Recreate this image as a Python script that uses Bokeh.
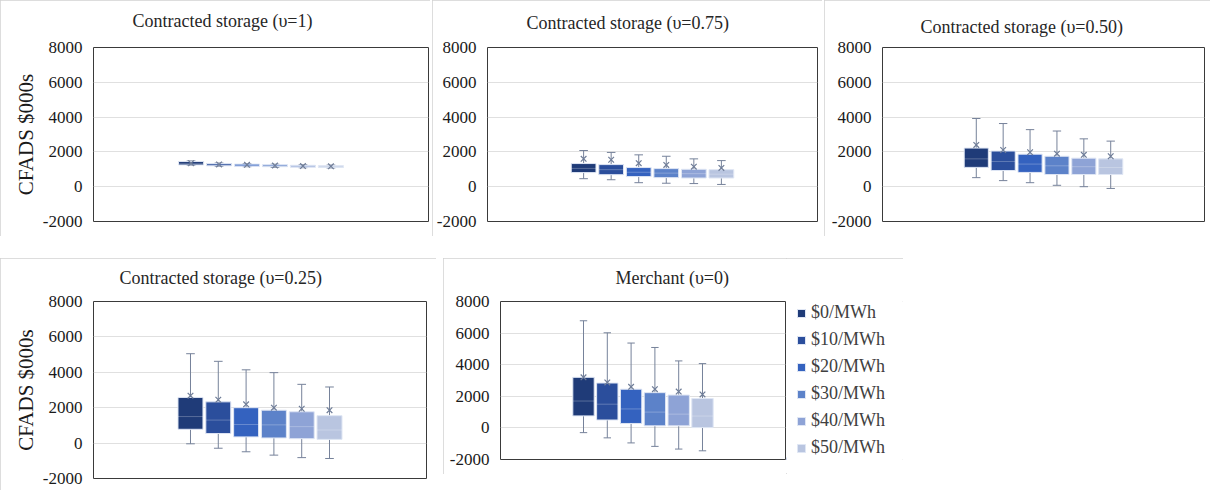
from bokeh.plotting import figure
from bokeh.models import (Range1d, Legend, LegendItem, ColumnDataSource,
                          FixedTicker, NumeralTickFormatter, Title)
from bokeh.layouts import row, column
from bokeh.embed import file_html
from bokeh.resources import INLINE

CATEGORIES = ["$0/MWh", "$10/MWh", "$20/MWh", "$30/MWh", "$40/MWh", "$50/MWh"]
COLORS = ["#1f3b78", "#2b4e9c", "#3462bf", "#5c82c9", "#8ea3d6", "#b9c5e0"]
Y_TICKS = [-2000, 0, 2000, 4000, 6000, 8000]

# Contracted storage (v=1)
LOW_100 = [1230, 1170, 1150, 1110, 1090, 1080]
Q1_100 = [1250, 1200, 1180, 1150, 1120, 1110]
MED_100 = [1340, 1260, 1240, 1200, 1170, 1160]
Q3_100 = [1450, 1330, 1300, 1260, 1230, 1210]
HIGH_100 = [1480, 1360, 1330, 1290, 1260, 1240]
MEAN_100 = [1350, 1280, 1255, 1215, 1185, 1170]

# Contracted storage (v=0.75)
LOW_075 = [460, 400, 230, 200, 180, 130]
Q1_075 = [810, 690, 580, 520, 500, 500]
MED_075 = [1050, 980, 830, 780, 750, 720]
Q3_075 = [1330, 1270, 1100, 1040, 1000, 980]
HIGH_075 = [2080, 1970, 1830, 1750, 1600, 1500]
MEAN_075 = [1600, 1550, 1350, 1250, 1150, 1080]

# Contracted storage (v=0.50)
LOW_050 = [520, 350, 230, 80, 0, -100]
Q1_050 = [1110, 930, 820, 700, 700, 700]
MED_050 = [1600, 1450, 1300, 1200, 1150, 1100]
Q3_050 = [2220, 2050, 1870, 1750, 1640, 1600]
HIGH_050 = [3920, 3630, 3280, 3200, 2750, 2620]
MEAN_050 = [2400, 2110, 1980, 1900, 1830, 1750]

# Contracted storage (v=0.25)
LOW_025 = [-40, -290, -490, -680, -820, -870]
Q1_025 = [780, 540, 350, 290, 250, 210]
MED_025 = [1500, 1300, 1050, 1030, 930, 740]
Q3_025 = [2580, 2330, 2000, 1860, 1770, 1550]
HIGH_025 = [5050, 4620, 4140, 3980, 3320, 3170]
MEAN_025 = [2680, 2450, 2190, 2000, 1940, 1860]

# Merchant (v=0)
LOW_000 = [-300, -630, -950, -1170, -1340, -1450]
Q1_000 = [760, 500, 280, 130, 130, 20]
MED_000 = [1700, 1500, 1200, 1000, 870, 750]
Q3_000 = [3200, 2840, 2450, 2230, 2080, 1860]
HIGH_000 = [6780, 6020, 5370, 5090, 4240, 4070]
MEAN_000 = [3200, 2880, 2600, 2450, 2300, 2120]

FONT = "Liberation Serif"
STEP = 0.0835
BOX_W = 0.075
CAP_W = 0.026
PANEL_OUTLINE = {"outline": "1px solid #d2d2d2", "outline-offset": "-1px"}


def make_panel(title, low, q1, med, q3, high, mean, width, height,
               left, right, top, bottom, title_offset, title_gap,
               ylabel=None, outline=True):
    p = figure(width=width, height=height, x_range=Range1d(0, 1),
               y_range=Range1d(-2000, 8000), output_backend="svg",
               toolbar_location=None, title_location=None,
               min_border_left=left, min_border_right=right,
               min_border_top=top, min_border_bottom=bottom)
    if outline:
        p.styles = PANEL_OUTLINE
    p.background_fill_color = "white"
    p.border_fill_color = "white"
    p.outline_line_color = "#3a3a3a"
    p.outline_line_width = 1

    # thin spacer between the frame and the chart title
    p.add_layout(Title(text=" ", text_font_size="1px", standoff=title_gap),
                 "above")
    p.add_layout(Title(text=title, align="left", offset=title_offset,
                       standoff=0, text_font=FONT, text_font_size="18px",
                       text_font_style="normal", text_color="#262626"),
                 "above")

    p.xaxis.visible = False
    p.xgrid.visible = False
    p.ygrid.grid_line_color = "#e0e0e0"
    p.yaxis.ticker = FixedTicker(ticks=Y_TICKS)
    p.yaxis.formatter = NumeralTickFormatter(format="0")
    p.yaxis.axis_line_color = None
    p.yaxis.major_tick_line_color = None
    p.yaxis.minor_tick_line_color = None
    p.yaxis.major_label_text_font = FONT
    p.yaxis.major_label_text_font_size = "17px"
    p.yaxis.major_label_text_color = "#1a1a1a"
    p.yaxis.major_label_standoff = 5
    if ylabel:
        p.yaxis.axis_label = ylabel
        p.yaxis.axis_label_text_font = FONT
        p.yaxis.axis_label_text_font_size = "21px"
        p.yaxis.axis_label_text_font_style = "normal"
        p.yaxis.axis_label_text_color = "#1a1a1a"
        p.yaxis.axis_label_standoff = 2

    n = len(CATEGORIES)
    xs = [0.5 + (i - (n - 1) / 2) * STEP for i in range(n)]
    src = ColumnDataSource(dict(
        x=xs, low=low, q1=q1, med=med, q3=q3, high=high, mean=mean,
        color=COLORS, cat=CATEGORIES,
        x0=[x - CAP_W / 2 for x in xs], x1=[x + CAP_W / 2 for x in xs],
        m0=[x - BOX_W / 2 for x in xs], m1=[x + BOX_W / 2 for x in xs],
    ))
    whisk = "#76829a"
    p.segment(x0="x", y0="q3", x1="x", y1="high", source=src,
              line_color=whisk, line_width=1)
    p.segment(x0="x", y0="low", x1="x", y1="q1", source=src,
              line_color=whisk, line_width=1)
    p.segment(x0="x0", y0="high", x1="x1", y1="high", source=src,
              line_color=whisk, line_width=1)
    p.segment(x0="x0", y0="low", x1="x1", y1="low", source=src,
              line_color=whisk, line_width=1)
    p.vbar(x="x", width=BOX_W, bottom="q1", top="q3", source=src,
           fill_color="color", line_color="#dfe6f4", line_width=1)
    p.segment(x0="m0", y0="med", x1="m1", y1="med", source=src,
              line_color="white", line_alpha=0.25, line_width=1)
    p.scatter(x="x", y="mean", source=src, marker="x", size=8,
              line_color="#6f7d98", line_width=1.2)
    return p


def make_legend_panel(width, height):
    lf = figure(width=width, height=height, x_range=Range1d(0, 1),
                y_range=Range1d(0, 1), output_backend="svg",
                toolbar_location=None, min_border=0)
    lf.axis.visible = False
    lf.grid.visible = False
    lf.outline_line_color = None
    lf.background_fill_color = "white"
    lf.border_fill_color = "white"
    src = ColumnDataSource(dict(cat=CATEGORIES, color=COLORS,
                                x=[-1.0] * len(CATEGORIES)))
    r = lf.vbar(x="x", width=0.01, bottom=0, top=0.01, source=src,
                fill_color="color", line_color="#dfe6f4")
    items = [LegendItem(label=c, renderers=[r], index=i)
             for i, c in enumerate(CATEGORIES)]
    lg = Legend(items=items, location="left")
    lg.label_text_font = FONT
    lg.label_text_font_size = "18px"
    lg.label_text_color = "#404040"
    lg.glyph_width = 10
    lg.glyph_height = 10
    lg.label_height = 20
    lg.spacing = 6
    lg.label_standoff = 5
    lg.padding = 2
    lg.margin = 10
    lg.border_line_color = None
    lg.background_fill_alpha = 0
    lf.add_layout(lg, "center")
    return lf


p1 = make_panel("Contracted storage (\u03c5=1)", LOW_100, Q1_100, MED_100,
                Q3_100, HIGH_100, MEAN_100, 430, 236, 93, 2, 47, 15,
                39, 14, ylabel="CFADS $000s")
p2 = make_panel("Contracted storage (\u03c5=0.75)", LOW_075, Q1_075, MED_075,
                Q3_075, HIGH_075, MEAN_075, 390, 236, 55, 5, 47, 15,
                39, 12)
p3 = make_panel("Contracted storage (\u03c5=0.50)", LOW_050, Q1_050, MED_050,
                Q3_050, HIGH_050, MEAN_050, 386, 236, 58, 6, 47, 15,
                38, 8)
p4 = make_panel("Contracted storage (\u03c5=0.25)", LOW_025, Q1_025, MED_025,
                Q3_025, HIGH_025, MEAN_025, 436, 235, 93, 10, 43, 15,
                26, 11, ylabel="CFADS $000s")
p5 = make_panel("Merchant (\u03c5=0)", LOW_000, Q1_000, MED_000,
                Q3_000, HIGH_000, MEAN_000, 343, 216, 57, 1, 43, 15,
                115, 11, outline=False)
lg_panel = make_legend_panel(117, 216)
merchant = row(p5, lg_panel, spacing=0, styles=PANEL_OUTLINE)

layout = column(row(p1, p2, p3, spacing=2), row(p4, merchant, spacing=7),
                spacing=22)

open("out.html", "w").write(file_html(layout, INLINE))
